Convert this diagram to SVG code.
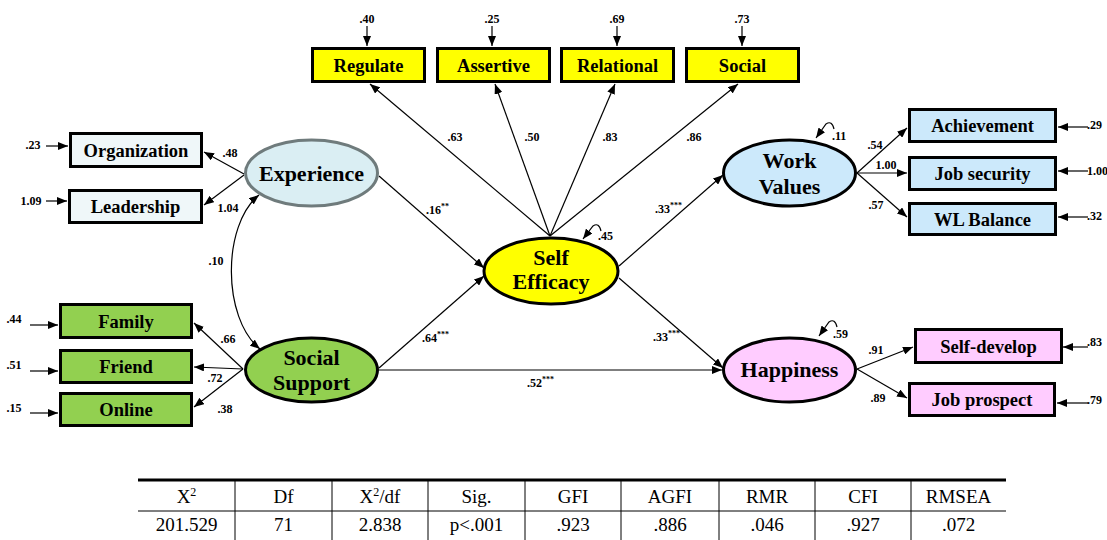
<svg xmlns="http://www.w3.org/2000/svg" width="1107" height="540" viewBox="0 0 1107 540">
<defs>
<marker id="ah" viewBox="0 0 10 8" refX="10" refY="4" markerWidth="10" markerHeight="8" markerUnits="userSpaceOnUse" orient="auto-start-reverse">
<path d="M0,0 L10,4 L0,8 Z" fill="#000"/>
</marker>
<style>
.box{stroke:#000;stroke-width:3}
.ell{stroke:#000;stroke-width:3}
.bt{font-family:"Liberation Serif","Times New Roman",serif;font-weight:bold;font-size:18.5px;text-anchor:middle;fill:#000}
.et{font-family:"Liberation Serif","Times New Roman",serif;font-weight:bold;font-size:22px;text-anchor:middle;fill:#000}
.lb{font-family:"Liberation Serif","Times New Roman",serif;font-weight:bold;font-size:12px;fill:#000}
.mid{text-anchor:middle}
.ln{stroke:#000;stroke-width:1.2;fill:none;marker-end:url(#ah)}
.tt{font-family:"Liberation Serif","Times New Roman",serif;font-size:19px;text-anchor:middle;fill:#000}
.sup{font-size:8px}
</style>
</defs>
<rect width="1107" height="540" fill="#fff"/>

<g id="connectors">
<line class="ln" x1="550" y1="236" x2="370" y2="84"/>
<line class="ln" x1="550" y1="236" x2="495" y2="84"/>
<line class="ln" x1="550" y1="236" x2="615" y2="84"/>
<line class="ln" x1="550" y1="236" x2="738" y2="84"/>
<line class="ln" x1="244" y1="174" x2="204" y2="152"/>
<line class="ln" x1="244" y1="175" x2="204" y2="205"/>
<line class="ln" x1="243" y1="369" x2="194" y2="323"/>
<line class="ln" x1="243" y1="369" x2="194" y2="367"/>
<line class="ln" x1="243" y1="369" x2="194" y2="407"/>
<path d="M259,195 C222,225 222,318 260,349" fill="none" stroke="#000" stroke-width="1.2" marker-start="url(#ah)" marker-end="url(#ah)"/>
<line class="ln" x1="379" y1="176" x2="484" y2="268"/>
<line class="ln" x1="379" y1="368" x2="484" y2="276"/>
<line class="ln" x1="379" y1="370" x2="722" y2="370"/>
<line class="ln" x1="619" y1="266" x2="723" y2="175"/>
<line class="ln" x1="619" y1="278" x2="723" y2="368"/>
<line class="ln" x1="857" y1="173" x2="907" y2="128"/>
<line class="ln" x1="857" y1="173" x2="907" y2="173"/>
<line class="ln" x1="857" y1="173" x2="907" y2="217"/>
<line class="ln" x1="857" y1="369" x2="913" y2="347"/>
<line class="ln" x1="857" y1="369" x2="907" y2="398"/>
<line class="ln" x1="367" y1="26" x2="367" y2="46"/>
<line class="ln" x1="492" y1="26" x2="492" y2="46"/>
<line class="ln" x1="617" y1="26" x2="617" y2="46"/>
<line class="ln" x1="742" y1="26" x2="742" y2="46"/>
<line class="ln" x1="46" y1="146" x2="68" y2="146"/>
<line class="ln" x1="46" y1="201" x2="67" y2="201"/>
<line class="ln" x1="30" y1="325" x2="58" y2="325"/>
<line class="ln" x1="30" y1="371" x2="58" y2="371"/>
<line class="ln" x1="30" y1="413" x2="58" y2="413"/>
<line class="ln" x1="1088" y1="127" x2="1058" y2="127"/>
<line class="ln" x1="1088" y1="171" x2="1058" y2="171"/>
<line class="ln" x1="1088" y1="217" x2="1058" y2="217"/>
<line class="ln" x1="1088" y1="347" x2="1063" y2="347"/>
<line class="ln" x1="1088" y1="403" x2="1057" y2="403"/>
<path class="ln" d="M601,231 Q599,222 593,226 L583,239"/>
<path class="ln" d="M834,129 Q832,120 826,124 L816,138"/>
<path class="ln" d="M837,327 Q835,318 829,322 L819,336"/>
</g>

<g id="regulate"><rect class="box" x="312.5" y="48.5" width="112" height="33" fill="#ffff00"/><text class="bt" x="368.5" y="71.5">Regulate</text></g>
<g id="assertive"><rect class="box" x="437.5" y="48.5" width="112" height="33" fill="#ffff00"/><text class="bt" x="493.5" y="71.5">Assertive</text></g>
<g id="relational"><rect class="box" x="561.5" y="48.5" width="112" height="33" fill="#ffff00"/><text class="bt" x="617.5" y="71.5">Relational</text></g>
<g id="social"><rect class="box" x="686.5" y="48.5" width="112" height="33" fill="#ffff00"/><text class="bt" x="742.5" y="71.5">Social</text></g>

<g id="organization"><rect class="box" x="70.5" y="133.5" width="131" height="33" fill="#eff7f9"/><text class="bt" x="136" y="156.5">Organization</text></g>
<g id="leadership"><rect class="box" x="69.5" y="190.5" width="132" height="32" fill="#eff7f9"/><text class="bt" x="135.5" y="213">Leadership</text></g>
<g id="family"><rect class="box" x="60.5" y="304.5" width="131" height="33" fill="#92d050"/><text class="bt" x="126" y="327.5">Family</text></g>
<g id="friend"><rect class="box" x="60.5" y="350.5" width="131" height="32" fill="#92d050"/><text class="bt" x="126" y="373">Friend</text></g>
<g id="online"><rect class="box" x="60.5" y="393.5" width="131" height="32" fill="#92d050"/><text class="bt" x="126" y="416">Online</text></g>

<g id="achievement"><rect class="box" x="909.5" y="109.5" width="146" height="32" fill="#cce9fb"/><text class="bt" x="982.5" y="132">Achievement</text></g>
<g id="jobsecurity"><rect class="box" x="909.5" y="157.5" width="146" height="32" fill="#cce9fb"/><text class="bt" x="982.5" y="180">Job security</text></g>
<g id="wlbalance"><rect class="box" x="909.5" y="203.5" width="146" height="31" fill="#cce9fb"/><text class="bt" x="982.5" y="225.5">WL Balance</text></g>
<g id="selfdevelop"><rect class="box" x="915.5" y="329.5" width="146" height="33" fill="#ffccff"/><text class="bt" x="988.5" y="352.5">Self-develop</text></g>
<g id="jobprospect"><rect class="box" x="909.5" y="383.5" width="145" height="32" fill="#ffccff"/><text class="bt" x="982" y="406">Job prospect</text></g>

<g id="experience"><ellipse cx="311.5" cy="173" rx="66" ry="33" fill="#daeef3" stroke="#6f7b7c" stroke-width="3"/><text class="et" x="311.5" y="181">Experience</text></g>
<g id="socialsupport"><ellipse class="ell" cx="311.5" cy="370" rx="66" ry="32" fill="#92d050"/><text class="et" x="311.5" y="365">Social</text><text class="et" x="311.5" y="390">Support</text></g>
<g id="selfefficacy"><ellipse class="ell" cx="551" cy="271" rx="67" ry="33" fill="#ffff00"/><text class="et" x="551" y="265" font-size="21">Self</text><text class="et" x="551" y="289" font-size="21">Efficacy</text></g>
<g id="workvalues"><ellipse class="ell" cx="789.5" cy="173" rx="66" ry="33" fill="#cce9fb"/><text class="et" x="789.5" y="168">Work</text><text class="et" x="789.5" y="194">Values</text></g>
<g id="happiness"><ellipse class="ell" cx="789.5" cy="370" rx="66" ry="32" fill="#ffccff"/><text class="et" x="789.5" y="377">Happiness</text></g>

<g id="labels">
<text class="lb mid" x="367" y="23">.40</text>
<text class="lb mid" x="492" y="23">.25</text>
<text class="lb mid" x="617" y="23">.69</text>
<text class="lb mid" x="742" y="23">.73</text>
<text class="lb mid" x="455" y="141">.63</text>
<text class="lb mid" x="532" y="141">.50</text>
<text class="lb mid" x="610" y="141">.83</text>
<text class="lb mid" x="694" y="141">.86</text>
<text class="lb mid" x="230" y="157">.48</text>
<text class="lb mid" x="228" y="212">1.04</text>
<text class="lb mid" x="216" y="265">.10</text>
<text class="lb mid" x="228" y="343">.66</text>
<text class="lb mid" x="215" y="382">.72</text>
<text class="lb mid" x="225" y="413">.38</text>
<text class="lb mid" x="33" y="149">.23</text>
<text class="lb mid" x="31" y="205">1.09</text>
<text class="lb mid" x="14" y="323">.44</text>
<text class="lb mid" x="14" y="369">.51</text>
<text class="lb mid" x="14" y="412">.15</text>
<text class="lb" x="426" y="214">.16<tspan class="sup" dy="-5">**</tspan></text>
<text class="lb" x="422" y="342">.64<tspan class="sup" dy="-5">***</tspan></text>
<text class="lb" x="655" y="213">.33<tspan class="sup" dy="-5">***</tspan></text>
<text class="lb" x="653" y="341">.33<tspan class="sup" dy="-5">***</tspan></text>
<text class="lb" x="527" y="387">.52<tspan class="sup" dy="-5">***</tspan></text>
<text class="lb" x="598" y="240">.45</text>
<text class="lb" x="832" y="140">.11</text>
<text class="lb" x="833" y="338">.59</text>
<text class="lb mid" x="875" y="149">.54</text>
<text class="lb mid" x="886" y="169">1.00</text>
<text class="lb mid" x="876" y="209">.57</text>
<text class="lb mid" x="876" y="354">.91</text>
<text class="lb mid" x="878" y="402">.89</text>
<text class="lb" x="1087" y="129">.29</text>
<text class="lb" x="1087" y="175">1.00</text>
<text class="lb" x="1087" y="220">.32</text>
<text class="lb" x="1087" y="346">.83</text>
<text class="lb" x="1087" y="404">.79</text>
</g>

<g id="fit-table">
<line x1="138" y1="480" x2="1006" y2="480" stroke="#000" stroke-width="3"/>
<line x1="138" y1="511" x2="1006" y2="511" stroke="#000" stroke-width="1"/>
<g stroke="#000" stroke-width="1">
<line x1="235" y1="481" x2="235" y2="540"/>
<line x1="332" y1="481" x2="332" y2="540"/>
<line x1="428" y1="481" x2="428" y2="540"/>
<line x1="525" y1="481" x2="525" y2="540"/>
<line x1="621" y1="481" x2="621" y2="540"/>
<line x1="719" y1="481" x2="719" y2="540"/>
<line x1="815" y1="481" x2="815" y2="540"/>
<line x1="911" y1="481" x2="911" y2="540"/>
</g>
<text class="tt" x="186.5" y="503">X<tspan font-size="12" dy="-7">2</tspan></text>
<text class="tt" x="283.5" y="503">Df</text>
<text class="tt" x="380" y="503">X<tspan font-size="12" dy="-7">2</tspan><tspan dy="7">/df</tspan></text>
<text class="tt" x="476.5" y="503">Sig.</text>
<text class="tt" x="573" y="503">GFI</text>
<text class="tt" x="670" y="503">AGFI</text>
<text class="tt" x="767" y="503">RMR</text>
<text class="tt" x="863" y="503">CFI</text>
<text class="tt" x="958.5" y="503">RMSEA</text>
<text class="tt" x="186.5" y="531">201.529</text>
<text class="tt" x="283.5" y="531">71</text>
<text class="tt" x="380" y="531">2.838</text>
<text class="tt" x="476.5" y="531">p&lt;.001</text>
<text class="tt" x="573" y="531">.923</text>
<text class="tt" x="670" y="531">.886</text>
<text class="tt" x="767" y="531">.046</text>
<text class="tt" x="863" y="531">.927</text>
<text class="tt" x="958.5" y="531">.072</text>
</g>
</svg>
